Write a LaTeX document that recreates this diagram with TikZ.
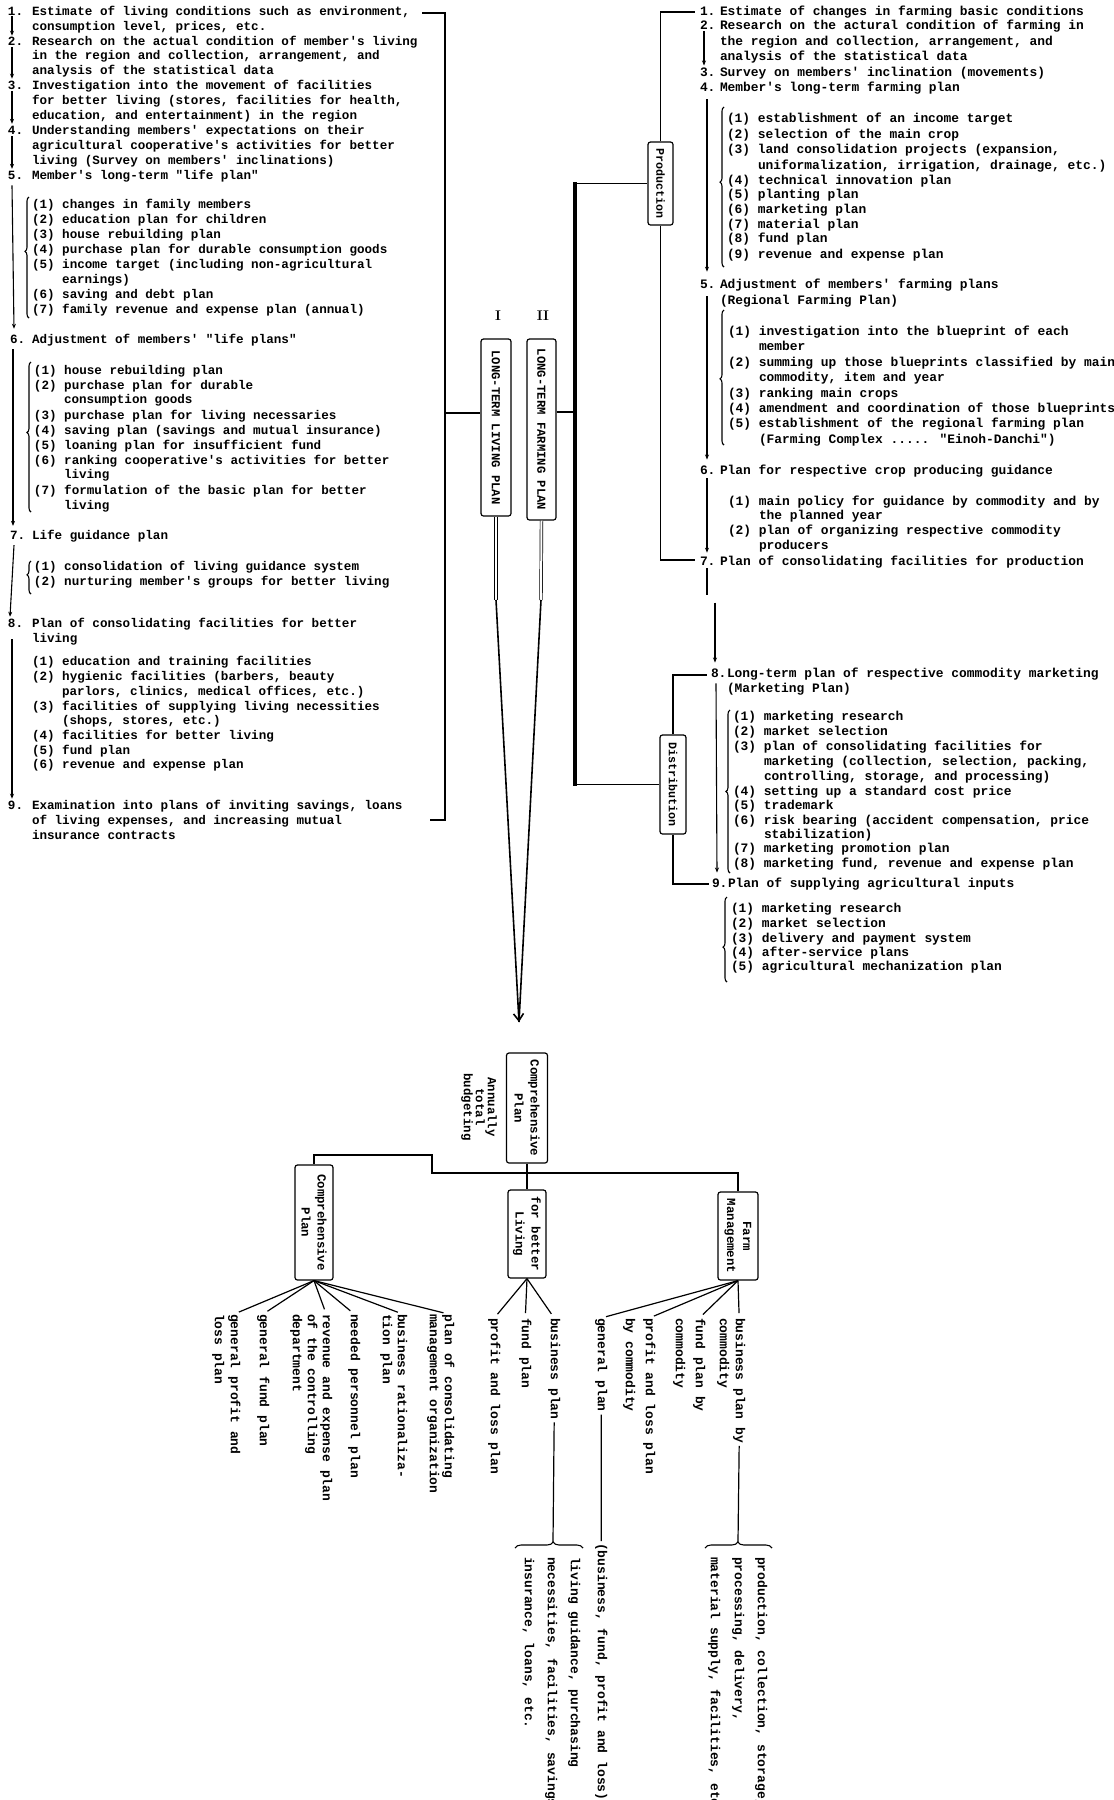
\documentclass[tikz,border=0pt]{standalone}
\usepackage{fontspec}
\newfontfamily\tyf{Liberation Mono}
\usetikzlibrary{arrows.meta,decorations.pathreplacing}
\newcounter{nn}
\newcommand\T[4][lt]{\stepcounter{nn}\node[#1] (n\arabic{nn}) at (#2,#3) {#4};}
\newcommand\N[5][lt]{\node[#1] (#2) at (#3,#4) {#5};}
\begin{document}
\begin{tikzpicture}[x=1pt,y=-1pt,
 tx0/.style={inner sep=0pt,outer sep=0pt},
 lt/.style={tx0,anchor=mid west,font=\tyf\bfseries\fontsize{12.6}{15}\selectfont},
 rt/.style={tx0,anchor=mid west,font=\tyf\bfseries\fontsize{12.9}{15}\selectfont},
 bt/.style={tx0,anchor=mid west,rotate=-90,font=\tyf\bfseries\fontsize{13}{15}\selectfont},
 bx/.style={draw,line width=1.2pt,rounded corners=2.5pt,rotate=-90,align=center,inner sep=1pt,font=\tyf\bfseries\fontsize{12.4}{16}\selectfont},
 ln/.style={line width=1.2pt},
 thk/.style={line width=3.6pt,line cap=rect},
 ar/.style={line width=1.1pt,-{Stealth[length=5pt,width=4pt]}},
 brc/.style={line width=1.1pt,decorate,decoration={brace,amplitude=4pt,aspect=#1}},
 brc/.default=0.5]
\useasboundingbox (0,0) rectangle (1114,1800);
\fill[white] (0,0) rectangle (1114,1800);

% ---------------- LEFT COLUMN ----------------
\N{L1}{8}{13}{1.}
\N{l1t}{32}{13}{Estimate of living conditions such as environment,}
\T{32}{28}{consumption level, prices, etc.}
\N{L2}{8}{43}{2.}
\T{32}{43}{Research on the actual condition of member's living}
\T{32}{57}{in the region and collection, arrangement, and}
\T{32}{72}{analysis of the statistical data}
\N{L3}{8}{87}{3.}
\T{32}{87}{Investigation into the movement of facilities}
\T{32}{102}{for better living (stores, facilities for health,}
\T{32}{117}{education, and entertainment) in the region}
\N{L4}{8}{132}{4.}
\T{32}{132}{Understanding members' expectations on their}
\T{32}{147}{agricultural cooperative's activities for better}
\T{32}{162}{living (Survey on members' inclinations)}
\N{L5}{8}{177}{5.}
\T{32}{177}{Member's long-term "life plan"}
\T{32}{206}{(1) changes in family members}
\T{32}{221}{(2) education plan for children}
\T{32}{236}{(3) house rebuilding plan}
\T{32}{251}{(4) purchase plan for durable consumption goods}
\T{32}{266}{(5) income target (including non-agricultural}
\T{62}{281}{earnings)}
\T{32}{296}{(6) saving and debt plan}
\T{32}{311}{(7) family revenue and expense plan (annual)}

\N{L6}{10}{341}{6.}
\T{32}{341}{Adjustment of members' "life plans"}
\T{34}{372}{(1) house rebuilding plan}
\T{34}{387}{(2) purchase plan for durable}
\T{64}{401}{consumption goods}
\T{34}{417}{(3) purchase plan for living necessaries}
\T{34}{432}{(4) saving plan (savings and mutual insurance)}
\T{34}{447}{(5) loaning plan for insufficient fund}
\T{34}{462}{(6) ranking cooperative's activities for better}
\T{64}{476}{living}
\T{34}{492}{(7) formulation of the basic plan for better}
\T{64}{507}{living}

\N{L7}{10}{537}{7.}
\T{32}{537}{Life guidance plan}
\T{34}{568}{(1) consolidation of living guidance system}
\T{34}{583}{(2) nurturing member's groups for better living}

\N{L8}{8}{625}{8.}
\T{32}{625}{Plan of consolidating facilities for better}
\T{32}{640}{living}
\T{32}{663}{(1) education and training facilities}
\T{32}{678}{(2) hygienic facilities (barbers, beauty}
\T{62}{693}{parlors, clinics, medical offices, etc.)}
\T{32}{708}{(3) facilities of supplying living necessities}
\T{62}{722}{(shops, stores, etc.)}
\T{32}{737}{(4) facilities for better living}
\T{32}{752}{(5) fund plan}
\T{32}{766}{(6) revenue and expense plan}

\N{L9}{8}{807}{9.}
\T{32}{807}{Examination into plans of inviting savings, loans}
\T{32}{822}{of living expenses, and increasing mutual}
\T{32}{837}{insurance contracts}

% left arrows and braces
\draw[ar] ([xshift=4pt,yshift=-1pt]L1.south west) -- ([xshift=4pt,yshift=1pt]L2.north west);
\draw[ar] ([xshift=4pt,yshift=-2pt]L2.south west) -- ([xshift=4pt,yshift=2pt]L3.north west);
\draw[ar] ([xshift=4pt,yshift=-2pt]L3.south west) -- ([xshift=4pt,yshift=2pt]L4.north west);
\draw[ar] ([xshift=4pt,yshift=-2pt]L4.south west) -- ([xshift=4pt,yshift=2pt]L5.north west);
\draw[ar] ([xshift=4pt,yshift=-6pt]L5.south west) -- ([xshift=4pt,yshift=6pt]L6.north west);
\draw[ar] ([xshift=3pt,yshift=-6pt]L6.south west) -- ([xshift=3pt,yshift=5pt]L7.north west);
\draw[ar] ([xshift=4pt,yshift=-6pt]L7.south west) -- ([xshift=2pt,yshift=2pt]L8.north west);
\draw[ar] ([xshift=4pt,yshift=-12pt]L8.south west) -- ([xshift=4pt,yshift=2pt]L9.north west);
\draw[brc=0.55] (29,318) -- (29,197);
\draw[brc=0.53] (31,512) -- (31,362);
\draw[brc=0.58] (31,594) -- (31,561);

% left bracket
\coordinate (bkT) at (445,13);
\coordinate (bkB) at (445,820);
\coordinate (bkL) at (445,413);
\draw[ln] (bkT) ++(-23,0) -- (bkT) -- (bkB) -- ++(-15,0);

% ---------------- MIDDLE ----------------
\node[bx,font=\tyf\bfseries\fontsize{12.2}{14}\selectfont,minimum width=177pt,minimum height=30pt] (living) at (496,427.5) {LONG-TERM LIVING PLAN};
\node[bx,font=\tyf\bfseries\fontsize{12.2}{14}\selectfont,minimum width=181pt,minimum height=29pt] (farming) at (541.5,429.5) {LONG-TERM FARMING PLAN};
\node[tx0,font=\rmfamily\bfseries\fontsize{14}{14}\selectfont] (lI) at (498,316) {I};
\node[tx0,font=\rmfamily\bfseries\fontsize{14}{14}\selectfont] (lII) at (543,316) {II};
\draw[ln] (bkL) -- (bkL -| living.south);

\node[bx,font=\tyf\bfseries\fontsize{11.7}{14}\selectfont,minimum width=83pt,minimum height=25pt] (prod) at (660.5,183.5) {Production};
\node[bx,font=\tyf\bfseries\fontsize{11.7}{14}\selectfont,minimum width=99pt,minimum height=26pt] (dist) at (673,784.5) {Distribution};

\coordinate (tkT) at (575,183.5);
\coordinate (tkB) at (575,784.5);
\coordinate (tkF) at (575,412);
\draw[thk] (tkT) -- (tkB);
\draw[ln] (tkT) -- (prod.south);
\draw[ln] (tkB) -- (dist.south);
\draw[ln] (farming.north |- tkF) -- (tkF);

\coordinate (pT) at (695,12);
\coordinate (pB) at (695,560);
\draw[ln] (prod.west) |- (pT);
\draw[ln] (prod.east) |- (pB);
\coordinate (dT) at (707,675);
\coordinate (dB) at (709,884);
\draw[ln] (dist.west) |- (dT);
\draw[ln] (dist.east) |- (dB);

% convergence
\coordinate (lv) at (496,600);
\coordinate (fv) at (541,600);
\coordinate (cv) at (519,1022);
\draw[line width=0.7pt,double,double distance=2pt] (living.east) -- (lv);
\draw[line width=0.7pt,double,double distance=2pt] (farming.east) -- (fv);
\draw[line width=1.6pt] (fv) -- (cv);
\draw[line width=1.6pt,-{Straight Barb[length=7pt,width=10pt]}] (lv) -- (cv);

% ---------------- RIGHT COLUMN ----------------
\N[rt]{R1}{700}{13}{1.}
\T[rt]{720}{13}{Estimate of changes in farming basic conditions}
\N[rt]{R2}{700}{27}{2.}
\T[rt]{720}{27}{Research on the actural condition of farming in}
\T[rt]{720}{43}{the region and collection, arrangement, and}
\T[rt]{720}{58}{analysis of the statistical data}
\N[rt]{R3}{700}{74}{3.}
\T[rt]{720}{74}{Survey on members' inclination (movements)}
\N[rt]{R4}{700}{89}{4.}
\T[rt]{720}{89}{Member's long-term farming plan}
\T[rt]{727}{120}{(1) establishment of an income target}
\T[rt]{727}{136}{(2) selection of the main crop}
\T[rt]{727}{151}{(3) land consolidation projects (expansion,}
\T[rt]{758}{167}{uniformalization, irrigation, drainage, etc.)}
\T[rt]{727}{182}{(4) technical innovation plan}
\T[rt]{727}{196}{(5) planting plan}
\T[rt]{727}{211}{(6) marketing plan}
\T[rt]{727}{226}{(7) material plan}
\T[rt]{727}{240}{(8) fund plan}
\T[rt]{727}{256}{(9) revenue and expense plan}

\N[rt]{R5}{700}{286}{5.}
\T[rt]{720}{286}{Adjustment of members' farming plans}
\T[rt]{720}{302}{(Regional Farming Plan)}
\T[rt]{728}{333}{(1) investigation into the blueprint of each}
\T[rt]{759}{348}{member}
\T[rt]{728}{364}{(2) summing up those blueprints classified by main}
\T[rt]{759}{379}{commodity, item and year}
\T[rt]{728}{395}{(3) ranking main crops}
\T[rt]{728}{410}{(4) amendment and coordination of those blueprints}
\T[rt]{728}{425}{(5) establishment of the regional farming plan}
\T[rt]{759}{441}{(Farming Complex ..... "Einoh-Danchi")}

\N[rt]{R6}{700}{472}{6.}
\T[rt]{720}{472}{Plan for respective crop producing guidance}
\T[rt]{728}{503}{(1) main policy for guidance by commodity and by}
\T[rt]{759}{517}{the planned year}
\T[rt]{728}{532}{(2) plan of organizing respective commodity}
\T[rt]{759}{547}{producers}

\N[rt]{R7}{700}{563}{7.}
\T[rt]{720}{563}{Plan of consolidating facilities for production}

\N[rt]{R8}{711}{675}{8.}
\T[rt]{727}{675}{Long-term plan of respective commodity marketing}
\T[rt]{727}{690}{(Marketing Plan)}
\T[rt]{733}{718}{(1) marketing research}
\T[rt]{733}{733}{(2) market selection}
\T[rt]{733}{748}{(3) plan of consolidating facilities for}
\T[rt]{764}{763}{marketing (collection, selection, packing,}
\T[rt]{764}{778}{controlling, storage, and processing)}
\T[rt]{733}{793}{(4) setting up a standard cost price}
\T[rt]{733}{807}{(5) trademark}
\T[rt]{733}{822}{(6) risk bearing (accident compensation, price}
\T[rt]{764}{836}{stabilization)}
\T[rt]{733}{850}{(7) marketing promotion plan}
\T[rt]{733}{865}{(8) marketing fund, revenue and expense plan}

\N[rt]{R9}{712}{885}{9.}
\T[rt]{728}{885}{Plan of supplying agricultural inputs}
\T[rt]{731}{910}{(1) marketing research}
\T[rt]{731}{925}{(2) market selection}
\T[rt]{731}{940}{(3) delivery and payment system}
\T[rt]{731}{954}{(4) after-service plans}
\T[rt]{731}{968}{(5) agricultural mechanization plan}

% right arrows and braces
\draw[ar] ([xshift=4pt,yshift=-2pt]R2.south west) -- ([xshift=4pt,yshift=2pt]R3.north west);
\draw[ar] ([xshift=7pt,yshift=-8pt]R4.south west) -- ([xshift=7pt,yshift=8pt]R5.north west);
\draw[ar] ([xshift=7pt,yshift=-8pt]R5.south west) -- ([xshift=7pt,yshift=6pt]R6.north west);
\draw[ar] ([xshift=7pt,yshift=-4pt]R6.south west) -- ([xshift=7pt,yshift=4pt]R7.north west);
\draw[ln] ([xshift=7pt,yshift=-3pt]R7.south west) -- ++(0,27);
\draw[ar] ([xshift=4pt,yshift=6pt]R8.north west) ++(0,-60) -- ([xshift=4pt,yshift=6pt]R8.north west);
\draw[ar] ([xshift=5pt,yshift=-6pt]R8.south west) -- ([xshift=5pt,yshift=6pt]R9.north west);
\draw[brc=0.53] (724,267) -- (724,107);
\draw[brc=0.49] (724,445) -- (724,310);
\draw[brc=0.5] (730,873) -- (730,710);
\draw[brc=0.41] (727,982) -- (727,897);

% ---------------- BOTTOM ----------------
\node[bx,minimum width=110pt,minimum height=41pt] (cp) at (527,1108) {Comprehensive\\Plan};
\node[tx0,rotate=-90,align=center,font=\tyf\bfseries\fontsize{12.4}{12}\selectfont] (ann) at (479,1107) {Annually\\total\\budgeting};
\node[bx,minimum width=115pt,minimum height=38pt] (lp) at (314,1222.5) {Comprehensive\\Plan};
\node[bx,minimum width=88pt,minimum height=38pt] (fbl) at (527,1234) {for better\\Living};
\node[bx,minimum width=88pt,minimum height=40pt] (fm) at (738,1236) {Farm\\Management};

\draw[ln] (cp.east) -- (fbl.west);
\coordinate (k1) at (432,1155);
\coordinate (k2) at (432,1173);
\draw[ln] (lp.west) |- (k1) -- (k2) -| (fm.west);

\N[bt]{ca1}{447}{1314}{plan of consolidating}
\N[bt]{ca2}{432}{1314}{management organization}
\N[bt]{cb1}{400}{1314}{business rationaliza-}
\N[bt]{cb2}{385}{1314}{tion plan}
\N[bt]{cc1}{353}{1314}{needed personnel plan}
\N[bt]{cd1}{325}{1314}{revenue and expense plan}
\N[bt]{cd2}{310}{1314}{of the controlling}
\N[bt]{cd3}{295}{1314}{department}
\N[bt]{ce1}{262}{1314}{general fund plan}
\N[bt]{cf1}{233}{1314}{general profit and}
\N[bt]{cf2}{217}{1314}{loss plan}
\N[bt]{cg1}{493}{1318}{profit and loss plan}
\N[bt]{ch1}{524}{1318}{fund plan}
\N[bt]{ci1}{553}{1318}{business plan}
\N[bt]{cj1}{738}{1318}{business plan by}
\N[bt]{cj2}{722}{1318}{commodity}
\N[bt]{ck1}{698}{1318}{fund plan by}
\N[bt]{ck2}{678}{1318}{commodity}
\N[bt]{cl1}{648}{1318}{profit and loss plan}
\N[bt]{cl2}{628}{1318}{by commodity}
\N[bt]{cm1}{600}{1318}{general plan}
\N[bt]{cn1}{600}{1543}{(business, fund, profit and loss)}
\N[bt]{co1}{573}{1557}{living guidance, purchasing}
\N[bt]{co2}{550}{1557}{necessities, facilities, savings,}
\N[bt]{co3}{527}{1557}{insurance, loans, etc.}
\N[bt]{cq1}{760}{1557}{production, collection, storage,}
\N[bt]{cq2}{737}{1557}{processing, delivery,}
\N[bt]{cq3}{713}{1557}{material supply, facilities, etc.}

\foreach \c in {ca1,cb1,cc1,cd1,ce1,cf1} \draw[ln,shorten >=5pt] (lp.east) -- (\c.west);
\foreach \c in {cg1,ch1,ci1} \draw[ln,shorten >=5pt] (fbl.east) -- (\c.west);
\foreach \c in {cj1,ck1,cl1,cm1} \draw[ln,shorten >=5pt] (fm.east) -- (\c.west);

\coordinate (b1) at (553,1542);
\coordinate (b2) at (738,1542);
\draw[ln,shorten <=3pt] (ci1.east) -- (b1);
\draw[ln,shorten <=3pt] (cj1.east) -- (b2);
\draw[ln,shorten <=3pt,shorten >=2pt] (cm1.east) -- (cn1.west);
\draw[line width=1.1pt,decorate,decoration={brace,amplitude=6pt,aspect=0.56}] (515,1548) -- (583,1548);
\draw[line width=1.1pt,decorate,decoration={brace,amplitude=6pt,aspect=0.49}] (705,1548) -- (772,1548);
\end{tikzpicture}
\end{document}
